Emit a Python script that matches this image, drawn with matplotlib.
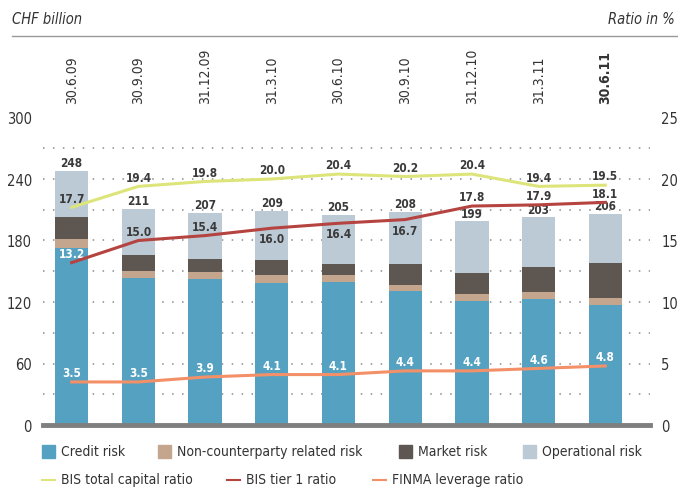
import matplotlib
matplotlib.use("Agg")
import matplotlib.pyplot as plt
from matplotlib import font_manager
from matplotlib.patches import Rectangle
from matplotlib.lines import Line2D
import numpy as np

# pick a condensed sans font if one is installed
fl = font_manager.fontManager.ttflist
cond = [f for f in fl if ("narrow" in f.name.lower() or "condensed" in f.name.lower()
                          or "condensed" in str(f.stretch)) and "mono" not in f.name.lower()
        and "serif" not in f.name.lower()]
avail = {f.name for f in fl}
stretch = "normal"
if cond:
    chosen = cond[0]
    fam = [chosen.name, "DejaVu Sans"]
    if "condensed" in str(chosen.stretch):
        stretch = chosen.stretch
else:
    fam = [f for f in ["Lato", "Roboto", "DejaVu Sans"] if f in avail]
plt.rcParams['font.family'] = fam
plt.rcParams['font.stretch'] = stretch
plt.rcParams['font.weight'] = 'light'

dates = ["30.6.09", "30.9.09", "31.12.09", "31.3.10", "30.6.10", "30.9.10", "31.12.10", "31.3.11", "30.6.11"]
credit = [173, 143, 142, 139, 140, 131, 121, 123, 117]
noncp = [8, 7, 7, 7, 6, 6, 7, 7, 7]
market = [22, 16, 13, 15, 11, 20, 20, 24, 34]
operational = [45, 45, 45, 48, 48, 51, 51, 49, 48]
totals = [248, 211, 207, 209, 205, 208, 199, 203, 206]
bis_total = [17.7, 19.4, 19.8, 20.0, 20.4, 20.2, 20.4, 19.4, 19.5]
bis_tier1 = [13.2, 15.0, 15.4, 16.0, 16.4, 16.7, 17.8, 17.9, 18.1]
finma_lev = [3.5, 3.5, 3.9, 4.1, 4.1, 4.4, 4.4, 4.6, 4.8]
left_ticks = [0, 60, 120, 180, 240, 300]
right_ticks = [0, 5, 10, 15, 20, 25]

c_credit = "#54a1c1"
c_noncp = "#c4a68f"
c_market = "#5e5651"
c_oper = "#bccad5"
c_total = "#dde57a"
c_tier1 = "#b5433f"
c_lev = "#f49068"
txt = "#3a3a3a"
fs = 10

W, H = 678, 489
fig = plt.figure(figsize=(W / 100, H / 100), dpi=100)
ax = fig.add_axes([43 / W, 1 - 426 / H, (650 - 43) / W, (426 - 118.5) / H])
ax2 = ax.twinx()

x = np.arange(len(dates))
bw = 0.5
b1 = np.array(credit)
b2 = b1 + np.array(noncp)
b3 = b2 + np.array(market)
ax.bar(x, credit, bw, color=c_credit, zorder=2)
ax.bar(x, noncp, bw, bottom=b1, color=c_noncp, zorder=2)
ax.bar(x, market, bw, bottom=b2, color=c_market, zorder=2)
ax.bar(x, operational, bw, bottom=b3, color=c_oper, zorder=2)

ax.set_xlim(-0.43, 8.67)
ax.set_ylim(0, 300)
ax2.set_ylim(0, 25)

for gy in range(30, 301, 30):
    ax.axhline(gy, color="#8a8a8a", lw=1.1, ls=(0, (1, 5.5)), zorder=1)
ax.axhline(0, color="#7f7f7f", lw=3.5, zorder=5, clip_on=False)

for a in (ax, ax2):
    for s in a.spines.values():
        s.set_visible(False)
    a.tick_params(length=0, labelsize=fs + 0.5, colors="#333333")
ax.set_xticks([])
ax.set_yticks(left_ticks)
ax.tick_params(axis='y', pad=8)
ax2.set_yticks(right_ticks)
ax2.tick_params(axis='y', pad=8)
ax2.set_zorder(ax.get_zorder() + 1)

ax2.plot(x, bis_total, color=c_total, lw=2.2, zorder=4)
ax2.plot(x, bis_tier1, color=c_tier1, lw=2.2, zorder=4)
ax2.plot(x, finma_lev, color=c_lev, lw=2.2, zorder=4)

lab_kw = dict(ha="center", fontsize=8.5, fontweight="bold")
for i in range(len(x)):
    ax.annotate(str(totals[i]), (x[i], totals[i]), xytext=(0, 1), textcoords="offset points",
                va="bottom", color=txt, **lab_kw)
    ax2.annotate(f"{bis_total[i]:.1f}", (x[i], bis_total[i]), xytext=(0, 2), textcoords="offset points",
                 va="bottom", color=txt, **lab_kw)
    below = i in (3, 4, 5)
    col = "white" if i == 0 else txt
    ax2.annotate(f"{bis_tier1[i]:.1f}", (x[i], bis_tier1[i]),
                 xytext=(0, -3 if below else 2), textcoords="offset points",
                 va="top" if below else "bottom", color=col, **lab_kw)
    ax2.annotate(f"{finma_lev[i]:.1f}", (x[i], finma_lev[i]), xytext=(0, 2), textcoords="offset points",
                 va="bottom", color="white", **lab_kw)

trans = matplotlib.transforms.blended_transform_factory(ax.transData, fig.transFigure)
for i, d in enumerate(dates):
    fig.text(x[i], 1 - 104 / H, d, transform=trans, rotation=90, ha="center", va="bottom",
             fontsize=fs, color="#333333", fontweight="bold" if i == len(dates) - 1 else "light")

fig.text(12 / W, 1 - 20 / H, "CHF billion", ha="left", va="center", fontsize=fs + 0.5,
         style="italic", color="#333333")
fig.text(675 / W, 1 - 20 / H, "Ratio in %", ha="right", va="center", fontsize=fs + 0.5,
         style="italic", color="#333333")
fig.add_artist(Line2D([12 / W, 1.0], [1 - 37 / H, 1 - 37 / H], transform=fig.transFigure,
                      color="#999999", lw=1))

legend_row1 = [("Credit risk", c_credit, 42), ("Non-counterparty related risk", c_noncp, 158),
               ("Market risk", c_market, 399), ("Operational risk", c_oper, 523)]
for name, col, px in legend_row1:
    fig.add_artist(Rectangle((px / W, 1 - 459 / H), 13 / W, 13 / H, transform=fig.transFigure,
                             color=col))
    fig.text((px + 19) / W, 1 - 452 / H, name, ha="left", va="center", fontsize=fs, color="#333333")

legend_row2 = [("BIS total capital ratio", c_total, 42), ("BIS tier 1 ratio", c_tier1, 227),
               ("FINMA leverage ratio", c_lev, 373)]
for name, col, px in legend_row2:
    fig.add_artist(Line2D([px / W, (px + 13) / W], [1 - 481 / H, 1 - 481 / H],
                          transform=fig.transFigure, color=col, lw=1.5))
    fig.text((px + 19) / W, 1 - 480 / H, name, ha="left", va="center", fontsize=fs, color="#333333")

fig.savefig("out.png", dpi=100)
